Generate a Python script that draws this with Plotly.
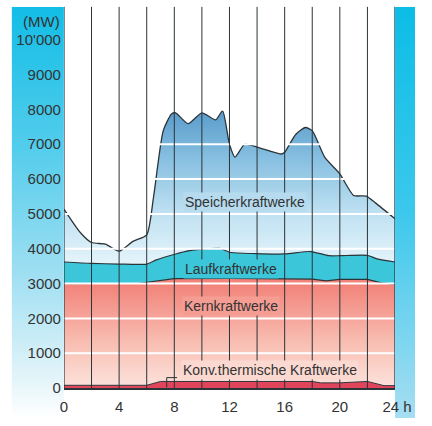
import base64
import plotly.graph_objects as go

# ---- data (MW) ----
konv_h = [0, 6, 7, 18, 18.6, 20, 22, 22.7, 23.2, 24]
konv_top = [80, 80, 190, 190, 150, 150, 190, 130, 70, 70]

kern_h = [0, 5.5, 8, 12, 18, 19, 20, 22, 23, 24]
kern_top = [3000, 3010, 3140, 3150, 3130, 3080, 3120, 3120, 3020, 2980]

lauf_h = [0, 2, 4, 6, 6.7, 8.1, 9, 10, 11.3, 12, 13.9, 16, 17.9, 19.2, 20, 22, 22.7, 24]
lauf_top = [3620, 3580, 3560, 3560, 3680, 3850, 3940, 3990, 4010, 3900, 3860, 3850,
            3920, 3800, 3800, 3810, 3710, 3620]

total_h = [0, 1.2, 2, 3, 4, 5, 6, 6.5, 7.2, 7.8, 8.1, 9, 10, 11, 11.5, 12, 12.4, 13.1,
           14, 15.8, 16, 16.8, 17.5, 18, 18.9, 20, 21, 21.9, 22.6, 24]
total_mw = [5140, 4460, 4180, 4130, 3930, 4210, 4400, 5500, 7390, 7870, 7900, 7590, 7900,
            7700, 7960, 7000, 6630, 7000, 6920, 6720, 6770, 7280, 7480, 7390, 6630, 6150,
            5530, 5510, 5310, 4860]

x_tickvals = [0, 4, 8, 12, 16, 20, 24]
x_ticktext = ["0", "4", "8", "12", "16", "20", "\u00a024 h"]
y_tickvals = [0, 1000, 2000, 3000, 4000, 5000, 6000, 7000, 8000, 9000, 10000]
y_ticktext = ["0", "1000", "2000", "3000", "4000", "5000", "6000", "7000", "8000", "9000", "10'000"]
hour_lines = list(range(0, 25, 2))
grid_levels = list(range(1000, 11000, 1000))

W, H = 432, 426
X0, X1 = 63, 411
Y_TOP, Y_ZERO = 7, 395.5
PX_PER_MW = 0.0355
y_max = (Y_ZERO - Y_TOP) / PX_PER_MW

OUT = "#2b3438"
TXT = "#333333"
FONT = "Liberation Sans, Arial, sans-serif"


def grad_svg(stops):
    s = "".join(f'<stop offset="{o}" stop-color="{c}"/>' for o, c in stops)
    svg = ('<svg xmlns="http://www.w3.org/2000/svg" width="10" height="100" viewBox="0 0 10 100" '
           'preserveAspectRatio="none"><defs><linearGradient id="g" x1="0" y1="0" x2="0" y2="1">'
           + s + '</linearGradient></defs><rect x="0" y="0" width="10" height="100" fill="url(#g)"/></svg>')
    return "data:image/svg+xml;base64," + base64.b64encode(svg.encode()).decode()


fig = go.Figure()

fig.add_trace(go.Scatter(
    x=konv_h, y=konv_top, mode="lines", line=dict(color=OUT, width=1),
    fill="tozeroy", fillcolor="#e0455c", hoverinfo="skip", showlegend=False))
fig.add_trace(go.Scatter(
    x=kern_h, y=kern_top, mode="lines", line=dict(color=OUT, width=1.2),
    fill="tonexty",
    fillgradient=dict(type="vertical", start=0, stop=3100,
                      colorscale=[[0, "#fde9e3"], [0.5, "#f8bcb0"], [1, "#f2847b"]]),
    hoverinfo="skip", showlegend=False))
fig.add_trace(go.Scatter(
    x=lauf_h, y=lauf_top, mode="lines", line=dict(color=OUT, width=1.2, shape="spline", smoothing=0.6),
    fill="tonexty", fillcolor="#3cc6da", hoverinfo="skip", showlegend=False))
fig.add_trace(go.Scatter(
    x=total_h, y=total_mw, mode="lines", line=dict(color=OUT, width=1.3, shape="spline", smoothing=0.6),
    fill="tonexty",
    fillgradient=dict(type="vertical", start=3600, stop=8000,
                      colorscale=[[0, "#e8f5fb"], [0.35, "#bfe1f2"], [0.7, "#86bfe0"], [1, "#5a9ccc"]]),
    hoverinfo="skip", showlegend=False))

shapes = []
for lv in grid_levels:
    shapes.append(dict(type="line", xref="x domain", yref="y", x0=0, x1=1, y0=lv, y1=lv,
                       line=dict(color="white", width=2), layer="above"))
for h in hour_lines:
    shapes.append(dict(type="line", xref="x", yref="y domain", x0=h, x1=h, y0=0, y1=1,
                       line=dict(color=OUT, width=1.3 if h in (0, 24) else 1), layer="above"))
# leader for the Konv. label
shapes.append(dict(type="path", xref="x", yref="y", path="M 7.45 20 L 7.45 300 L 8.2 300",
                   line=dict(color=OUT, width=1), layer="above"))

left_band = grad_svg([(0, "#12bde6"), (0.35, "#55cdec"), (0.65, "#9fdff2"), (0.9, "#e2f4f9"), (1, "#ffffff")])
right_band = grad_svg([(0, "#0cbde6"), (0.5, "#3cc8ec"), (1, "#a6def2")])

fig.update_layout(
    width=W, height=H, autosize=False,
    margin=dict(l=0, r=0, t=0, b=0),
    paper_bgcolor="white", plot_bgcolor="white",
    font=dict(family=FONT, color=TXT, size=15),
    xaxis=dict(domain=[X0 / W, X1 / W], range=[0, 24], tickmode="array",
               tickvals=x_tickvals, ticktext=x_ticktext, showgrid=False, zeroline=False,
               showline=True, linecolor=OUT, linewidth=1.5, ticks="", ticklabelstandoff=4,
               tickfont=dict(size=15, color=TXT, family=FONT)),
    yaxis=dict(domain=[(H - Y_ZERO) / H, (H - Y_TOP) / H], range=[0, y_max], tickmode="array",
               tickvals=y_tickvals, ticktext=y_ticktext, showgrid=False, zeroline=False,
               showline=False, ticks="", ticklabelstandoff=2,
               tickfont=dict(size=15, color=TXT, family=FONT)),
    shapes=shapes,
    images=[
        dict(source=left_band, xref="paper", yref="paper", x=8 / W, y=1 - Y_TOP / H,
             sizex=(X0 - 8) / W, sizey=1 - Y_TOP / H, xanchor="left", yanchor="top",
             sizing="stretch", layer="below"),
        dict(source=right_band, xref="paper", yref="paper", x=X1 / W, y=1 - Y_TOP / H,
             sizex=(W - X1) / W, sizey=1 - Y_TOP / H, xanchor="left", yanchor="top",
             sizing="stretch", layer="below"),
    ],
    annotations=[
        dict(text="(MW)", xref="paper", yref="paper", x=61 / W, y=1 - 22 / H,
             xanchor="right", yanchor="middle", showarrow=False, font=dict(size=15, color=TXT)),
        dict(text="Speicherkraftwerke", xref="x", yref="y", x=13.1, y=5340, showarrow=False,
             font=dict(size=14, color=TXT), bgcolor="#b6dbef", borderpad=1),
        dict(text="Laufkraftwerke", xref="x", yref="y", x=12.1, y=3420, showarrow=False,
             font=dict(size=14, color=TXT), bgcolor="#3cc6da", borderpad=1),
        dict(text="Kernkraftwerke", xref="x", yref="y", x=12.1, y=2350, showarrow=False,
             font=dict(size=14, color=TXT), bgcolor="#f59d93", borderpad=1),
        dict(text="Konv.thermische Kraftwerke", xref="x", yref="y", x=8.5, y=510, xanchor="left",
             showarrow=False, font=dict(size=14, color=TXT), bgcolor="#fbd9d1", borderpad=1),
    ],
)

fig.write_html(
    "out.html",
    config={"responsive": False, "displayModeBar": False},
    post_script="document.body.style.margin='0';document.documentElement.style.overflow='hidden';",
)
